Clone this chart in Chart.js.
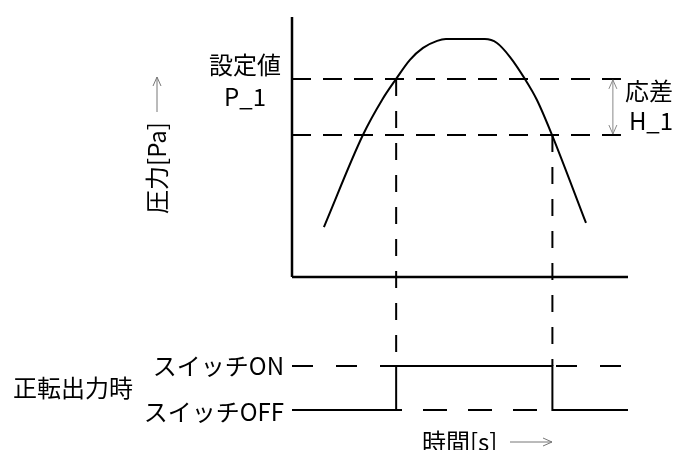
<!DOCTYPE html>
<html>
<head>
<meta charset="utf-8">
<script src="https://cdn.jsdelivr.net/npm/chart.js@4"></script>
<style>
  html, body { margin: 0; padding: 0; background: #fff; }
  canvas { display: block; }
</style>
</head>
<body>
<canvas id="chart" width="679" height="450"></canvas>
<script>
// Pressure curve (time 0-100, pressure 0-100 on the upper axis)
const curveTime = [9.5, 21.1, 26.8, 31.0, 35.1, 39.0, 43.2, 45.8, 57.4, 61.0, 64.9, 69.3, 72.9, 77.4, 87.5];
const curvePressure = [19.2, 54.6, 68.1, 76.2, 83.5, 88.1, 90.8, 91.5, 91.5, 90.0, 84.6, 76.2, 68.1, 54.6, 20.8];

// Set value P_1 and the lower limit (P_1 - H_1)
const setPoint = 76.2;
const resetPoint = 54.6;
const levelLineEnd = 97.9;

// Switch output (0 = OFF, 1 = ON)
const switchTimes = [0, 31.0, 31.0, 77.5, 77.5, 100];
const switchStates = [0, 0, 1, 1, 0, 0];
const switchOnTime = 31.0;
const switchOffTime = 77.5;

// Axis extent
const axisTime = [0, 100];
const axisPressure = [0, 100];

const FONT = '24px "Noto Sans CJK JP", "Noto Sans CJK SC", sans-serif';

function pts(xs, ys) {
    return xs.map((v, i) => ({ x: v, y: ys[i] }));
}

function line(ctx, x1, y1, x2, y2) {
    ctx.beginPath();
    ctx.moveTo(x1, y1);
    ctx.lineTo(x2, y2);
    ctx.stroke();
}

// open "V" arrow head at (x, y) pointing in direction (dx, dy)
function head(ctx, x, y, dx, dy) {
    const len = 9, w = 4;
    const px = -dy, py = dx;
    ctx.beginPath();
    ctx.moveTo(x - dx * len + px * w, y - dy * len + py * w);
    ctx.lineTo(x, y);
    ctx.lineTo(x - dx * len - px * w, y - dy * len - py * w);
    ctx.stroke();
}

const annotations = {
    id: 'annotations',
    afterDatasetsDraw(chart) {
        const { ctx, scales: { x, y, ySw } } = chart;
        ctx.save();

        // vertical guide lines from the curve down to the switch
        ctx.strokeStyle = '#000';
        ctx.lineWidth = 2;
        ctx.setLineDash([17, 15]);
        const onX = x.getPixelForValue(switchOnTime);
        const offX = x.getPixelForValue(switchOffTime);
        line(ctx, onX, y.getPixelForValue(setPoint), onX, ySw.getPixelForValue(1));
        line(ctx, offX, y.getPixelForValue(resetPoint), offX, ySw.getPixelForValue(1));
        ctx.setLineDash([]);

        // differential arrow (H_1)
        const ax = x.getPixelForValue(95.5);
        const top = y.getPixelForValue(setPoint);
        const bot = y.getPixelForValue(resetPoint);
        ctx.strokeStyle = '#000';
        ctx.lineWidth = 1.5;
        line(ctx, ax - 6, top, ax + 7, top);
        line(ctx, ax - 6, bot, ax + 7, bot);
        ctx.strokeStyle = '#888';
        ctx.lineWidth = 1;
        line(ctx, ax, top + 1, ax, bot - 1);
        head(ctx, ax, top + 1, 0, -1);
        head(ctx, ax, bot - 1, 0, 1);

        // axis title arrows
        ctx.strokeStyle = '#777';
        line(ctx, 157, 112, 157, 77);
        head(ctx, 157, 77, 0, -1);
        line(ctx, 510, 442, 552, 442);
        head(ctx, 552, 442, 1, 0);

        // texts
        ctx.fillStyle = '#000';
        ctx.font = FONT;
        ctx.textBaseline = 'middle';
        ctx.textAlign = 'center';
        ctx.fillText('設定値', 245, 65);
        ctx.fillText('P_1', 245, 97);
        ctx.fillText('応差', 649, 91);
        ctx.fillText('H_1', 651, 121);

        ctx.textAlign = 'right';
        ctx.fillText('スイッチON', 284, ySw.getPixelForValue(1));
        ctx.fillText('スイッチOFF', 284, ySw.getPixelForValue(0) + 2);

        ctx.textAlign = 'left';
        ctx.fillText('正転出力時', 13, 388);
        ctx.fillText('時間[s]', 422, 442);

        ctx.save();
        ctx.translate(157, 168);
        ctx.rotate(-Math.PI / 2);
        ctx.textAlign = 'center';
        ctx.fillText('圧力[Pa]', 0, 0);
        ctx.restore();

        ctx.restore();
    }
};

const ctx = document.getElementById('chart').getContext('2d');
new Chart(ctx, {
    type: 'line',
    data: {
        datasets: [
            {
                // dashed ON level
                data: pts(axisTime, [1, 1]),
                yAxisID: 'ySw',
                borderColor: '#000',
                borderWidth: 2,
                borderDash: [21, 23],
                pointRadius: 0,
                clip: false
            },
            {
                // dashed OFF level
                data: pts(axisTime, [0, 0]),
                yAxisID: 'ySw',
                borderColor: '#000',
                borderWidth: 2,
                borderDash: [24, 21],
                borderDashOffset: 4,
                pointRadius: 0,
                clip: false
            },
            {
                // switch output
                data: pts(switchTimes, switchStates),
                yAxisID: 'ySw',
                borderColor: '#000',
                borderWidth: 2,
                pointRadius: 0,
                clip: false
            },
            {
                // set value P_1
                data: pts([0, levelLineEnd], [setPoint, setPoint]),
                yAxisID: 'y',
                borderColor: '#000',
                borderWidth: 2,
                borderDash: [19, 12],
                pointRadius: 0,
                clip: false
            },
            {
                // P_1 - H_1
                data: pts([0, levelLineEnd], [resetPoint, resetPoint]),
                yAxisID: 'y',
                borderColor: '#000',
                borderWidth: 2,
                borderDash: [19, 12],
                pointRadius: 0,
                clip: false
            },
            {
                // pressure curve
                data: pts(curveTime, curvePressure),
                yAxisID: 'y',
                borderColor: '#000',
                borderWidth: 2,
                cubicInterpolationMode: 'monotone',
                pointRadius: 0,
                clip: false
            },
            {
                // pressure axis
                data: pts([0, 0], axisPressure),
                yAxisID: 'y',
                borderColor: '#000',
                borderWidth: 2.5,
                pointRadius: 0,
                clip: false
            },
            {
                // time axis
                data: pts(axisTime, [0, 0]),
                yAxisID: 'y',
                borderColor: '#000',
                borderWidth: 2.5,
                pointRadius: 0,
                clip: false
            }
        ]
    },
    options: {
        responsive: false,
        animation: false,
        devicePixelRatio: 1,
        layout: { padding: { left: 292, right: 51, top: 17, bottom: 17 } },
        plugins: {
            legend: { display: false },
            tooltip: { enabled: false }
        },
        scales: {
            x: { type: 'linear', min: 0, max: 100, display: false },
            y: { type: 'linear', min: -60, max: 100, display: false },
            ySw: { type: 'linear', min: -0.523, max: 8.932, display: false }
        }
    },
    plugins: [annotations]
});
</script>
</body>
</html>
